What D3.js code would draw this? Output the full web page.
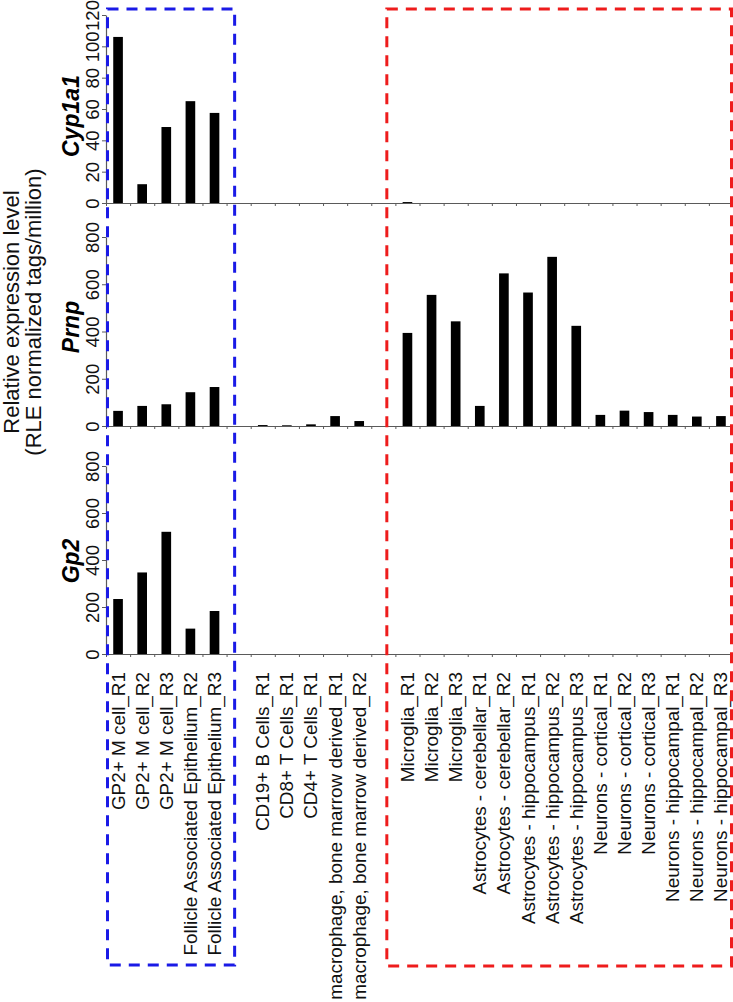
<!DOCTYPE html>
<html>
<head>
<meta charset="utf-8">
<script src="https://cdn.jsdelivr.net/npm/d3@7"></script>
<style>
  html, body { margin: 0; padding: 0; background: #fff; }
  svg { display: block; font-family: "Liberation Sans", Arial, sans-serif; }
</style>
</head>
<body>
<svg id="chart" width="733" height="1002"></svg>
<script>
// ---- data ----
const categories = [
  "GP2+ M cell_R1", "GP2+ M cell_R2", "GP2+ M cell_R3",
  "Follicle Associated Epithelium_R2", "Follicle Associated Epithelium_R3",
  "",
  "CD19+ B Cells_R1", "CD8+ T Cells_R1", "CD4+ T Cells_R1",
  "macrophage, bone marrow derived_R1", "macrophage, bone marrow derived_R2",
  "",
  "Microglia_R1", "Microglia_R2", "Microglia_R3",
  "Astrocytes - cerebellar_R1", "Astrocytes - cerebellar_R2",
  "Astrocytes - hippocampus_R1", "Astrocytes - hippocampus_R2", "Astrocytes - hippocampus_R3",
  "Neurons - cortical_R1", "Neurons - cortical_R2", "Neurons - cortical_R3",
  "Neurons - hippocampal_R1", "Neurons - hippocampal_R2", "Neurons - hippocampal_R3"
];
const genes = ["Cyp1a1", "Prnp", "Gp2"];
const cyp1a1Values = [106, 12, 48.5, 65, 57.5, null, 0, 0, 0, 0, 0, null, 0.6, 0, 0, 0, 0, 0, 0, 0, 0, 0, 0, 0, 0, 0];
const prnpValues   = [64, 85, 92, 143, 165, null, 4, 3, 7, 42, 21, null, 394, 555, 443, 85, 646, 565, 716, 424, 47, 65, 59, 47, 40, 42];
const gp2Values    = [234, 347, 520, 108, 183, null, 0, 0, 0, 0, 0, null, 0, 0, 0, 0, 0, 0, 0, 0, 0, 0, 0, 0, 0, 0];
const cyp1a1Ticks = [0, 20, 40, 60, 80, 100, 120];
const prnpTicks = [0, 200, 400, 600, 800];
const gp2Ticks = [0, 200, 400, 600, 800];
const yTitleLines = ["Relative expression level", "(RLE normalized tags/million)"];
const blueGroup = [0, 4];   // category index range in blue box
const redGroup = [12, 25];  // category index range in red box

// ---- layout ----
const svg = d3.select("#chart");
const xLeft = 106, xRight = 733;
const x = d3.scaleBand().domain(d3.range(categories.length)).range([xLeft, xRight])
  .paddingInner(0.6).paddingOuter(0.3);
const xEdge = d3.scaleLinear().domain([0, categories.length]).range([xLeft, xRight]);

const panels = [
  { name: genes[0], values: cyp1a1Values, ticks: cyp1a1Ticks, domain: [0, 120], range: [203, 15], labelY: 116 },
  { name: genes[1], values: prnpValues, ticks: prnpTicks, domain: [0, 800], range: [426, 237], labelY: 327 },
  { name: genes[2], values: gp2Values, ticks: gp2Ticks, domain: [0, 800], range: [654, 466], labelY: 561 }
];

const axisColor = "#5a5a5a";

panels.forEach(p => {
  const y = d3.scaleLinear().domain(p.domain).range(p.range);
  const g = svg.append("g");

  // bars
  g.selectAll("rect.bar")
    .data(p.values.map((v, i) => ({ v, i })).filter(d => d.v !== null && d.v > 0))
    .enter().append("rect")
    .attr("x", d => x(d.i))
    .attr("width", x.bandwidth())
    .attr("y", d => y(d.v))
    .attr("height", d => y(0) - y(d.v))
    .attr("fill", "#000");

  // y axis
  const ya = g.append("g").attr("transform", `translate(${xLeft},0)`)
    .call(d3.axisLeft(y).tickValues(p.ticks).tickSize(4).tickSizeOuter(0).tickFormat(d3.format("d")));
  ya.select(".domain").attr("stroke", axisColor).attr("stroke-width", 1.2);
  ya.selectAll(".tick line").attr("stroke", axisColor);
  ya.selectAll(".tick text")
    .attr("x", null).attr("dy", null)
    .attr("transform", "translate(-7,0) rotate(-90)")
    .attr("text-anchor", "middle")
    .attr("font-size", 18.5)
    .attr("fill", "#111");

  // x axis line with ticks at band edges
  const xa = g.append("g").attr("transform", `translate(0,${y(0)})`)
    .call(d3.axisBottom(xEdge).tickValues(d3.range(categories.length + 1)).tickSize(3).tickSizeOuter(0).tickFormat(""));
  xa.select(".domain").attr("stroke", axisColor).attr("stroke-width", 1.2);
  xa.selectAll(".tick line").attr("stroke", axisColor);

  // gene label
  g.append("text")
    .attr("transform", `translate(79,${p.labelY}) rotate(-90)`)
    .attr("text-anchor", "middle")
    .attr("font-size", 23)
    .attr("font-weight", "bold")
    .attr("font-style", "italic")
    .text(p.name);
});

// category labels
const labelTop = 672;
svg.append("g").selectAll("text")
  .data(categories)
  .enter().append("text")
  .attr("transform", (d, i) => `translate(${x(i) + x.bandwidth() / 2 + 6.5},${labelTop}) rotate(-90)`)
  .attr("text-anchor", "end")
  .attr("font-size", 18.9)
  .attr("fill", "#111")
  .text(d => d);

// y title
const yt = svg.append("text")
  .attr("transform", "translate(0,312) rotate(-90)")
  .attr("text-anchor", "middle")
  .attr("font-size", 22)
  .attr("fill", "#111");
yTitleLines.forEach((t, i) => {
  yt.append("tspan").attr("x", 0).attr("y", i === 0 ? 19 : 40.5).text(t);
});

// dashed group boxes
const boxTop = 9, boxBottom = 965;
const step = x.step();
const blueX0 = xEdge(blueGroup[0]) + 1.5;
const blueX1 = xEdge(blueGroup[1] + 1) + step * 0.5 - 4;
const redX0 = xEdge(redGroup[0]) - step * 0.5 + 3.5;
const redX1 = xEdge(redGroup[1] + 1) - 1.5;
svg.append("rect")
  .attr("x", blueX0).attr("y", boxTop)
  .attr("width", blueX1 - blueX0).attr("height", boxBottom - boxTop)
  .attr("fill", "none").attr("stroke", "#1a1ae6").attr("stroke-width", 3)
  .attr("stroke-dasharray", "11,8");
svg.append("rect")
  .attr("x", redX0).attr("y", boxTop)
  .attr("width", redX1 - redX0).attr("height", boxBottom + 1 - boxTop)
  .attr("fill", "none").attr("stroke", "#ee1c1c").attr("stroke-width", 3)
  .attr("stroke-dasharray", "11,8");
</script>
</body>
</html>
